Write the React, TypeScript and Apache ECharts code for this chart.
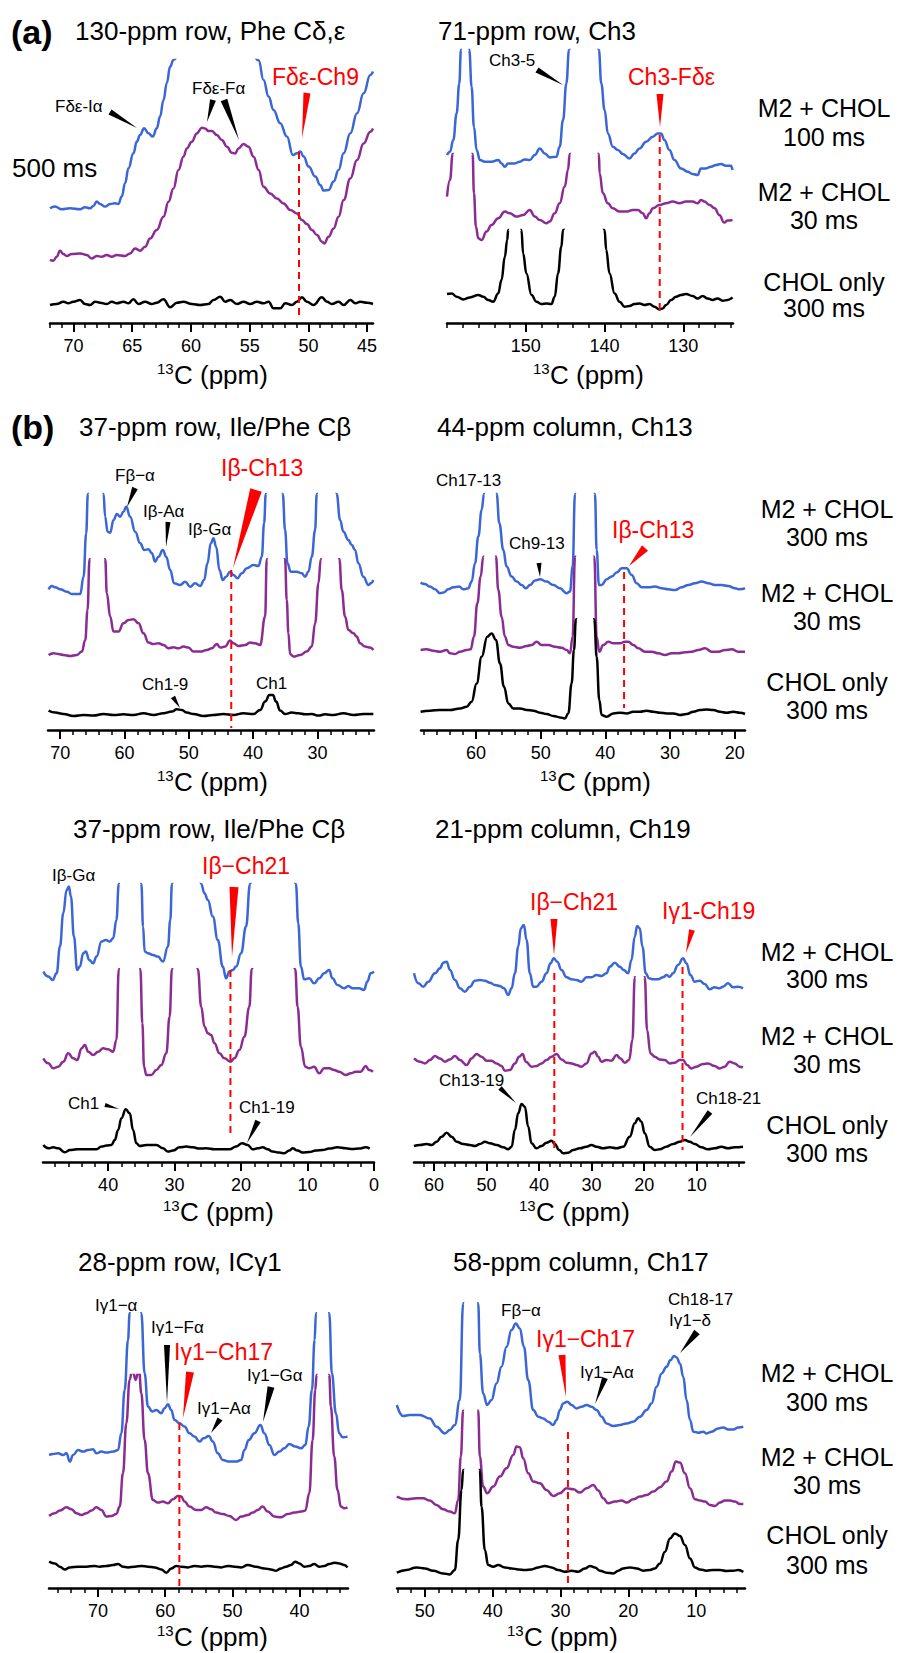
import React, { useEffect, useRef } from "react";
import * as echarts from "echarts";

const FONT = '"Liberation Sans", Arial, Helvetica, sans-serif';
const BLUE = "#3b66d6";
const PURPLE = "#8b2c93";
const BLACK = "#000000";
const RED = "#ff0000";

// ---------- spectra: flat [ppm, intensity, ppm, intensity, ...] ----------
const A1_BLUE = [72.0,0, 71.57,1.7, 71.0,-1, 70.3,0, 69.44,-1, 69.02,1, 68.59,0, 68.31,2.3, 68.02,6.7, 67.74,4.3, 67.31,1.7, 66.89,4.3, 66.46,5, 66.18,4.3, 65.89,11.7, 65.61,25, 65.32,40, 64.9,55, 64.61,66.7, 64.33,73.3, 63.99,80, 63.62,75, 63.25,71.7, 62.91,80, 62.63,91.7, 62.34,108, 62.06,125, 61.77,141.7, 61.49,148.3, 58,400, 54.24,148, 53.82,128.3, 53.39,111.7, 52.97,98.3, 52.4,85, 51.83,71.7, 51.32,53.3, 50.98,55, 50.69,56.7, 50.41,51.7, 49.98,41.7, 49.41,31.7, 48.99,23.3, 48.7,17.7, 48.28,18.3, 47.85,26.7, 47.43,38.3, 47.0,55, 46.43,75, 45.86,95, 45.3,115, 44.73,133.3, 44.5,136.7];
const A1_PURPLE = [72.0,-3.3, 71.72,-4, 71.43,0, 71.15,6, 70.86,2.7, 70.58,0.7, 70.15,2.7, 69.44,3.3, 68.88,1.7, 68.45,-1.7, 68.02,0.7, 67.6,0, 67.17,1.7, 66.74,0, 66.32,1.7, 65.61,0.7, 65.18,3.3, 64.76,8.3, 64.33,6, 63.9,10, 63.48,18.3, 62.91,26.7, 62.34,40, 61.91,55, 61.49,68.3, 61.06,86.7, 60.64,100, 60.35,108.3, 59.93,115, 59.5,123.3, 59.07,129, 58.79,128.3, 58.51,125.7, 58.22,125.7, 57.8,121.7, 57.37,116.7, 56.94,110, 56.52,104, 56.23,103.3, 55.95,108.3, 55.52,112.7, 55.1,110, 54.67,100, 54.24,86.7, 53.82,70, 53.25,63.3, 52.68,58.3, 52.11,53.3, 51.55,46.7, 50.98,43.3, 50.55,36.7, 50.13,32.7, 49.7,26.7, 49.27,21.7, 48.85,15, 48.65,13.3, 48.28,20, 47.85,28.3, 47.43,40, 47.0,56.7, 46.43,78.3, 45.86,96.7, 45.3,113.3, 44.73,125, 44.5,128.3];
const A1_BLACK = [72.0,-1, 71.43,0, 70.86,2.3, 70.44,0.7, 70.01,2.3, 69.44,4, 69.02,0, 68.59,-1, 68.16,2.3, 67.74,1.3, 67.17,0, 66.74,2.3, 66.32,0.7, 65.75,2.3, 65.32,0.7, 64.9,4.7, 64.47,0, 63.9,2.3, 63.34,0, 62.91,1.3, 62.34,4.7, 61.77,-3.3, 61.2,1.3, 60.64,2.3, 59.93,0, 59.22,-1, 58.51,0, 58.08,4, 57.51,7.3, 57.09,2.3, 56.66,4, 56.09,0, 55.52,2.3, 54.95,0, 54.39,2.3, 53.82,0.7, 53.39,2.3, 52.97,-4.3, 52.4,-4.3, 51.97,0.7, 51.4,-1, 50.98,2.3, 50.55,6.7, 50.13,2.3, 49.56,-1, 48.85,6.7, 48.42,2.3, 48.0,0, 47.43,2.3, 47.0,-1, 46.43,4, 46.0,0.7, 45.58,2.3, 45.01,1.3, 44.5,0];

const A2_BLUE = [160,6.7, 159.62,10, 159.2,21.7, 158.78,48.3, 158.44,78.3, 158.23,111.7, 157.72,400, 157.17,111.7, 156.88,75, 156.58,35, 156.24,11.7, 155.82,1.7, 155.19,0, 154.35,0, 153.5,1.7, 153.08,-1.7, 152.66,-5, 152.24,-1.7, 151.39,-1.7, 150.76,0, 150.13,2.3, 149.49,1.7, 148.86,6.7, 148.23,13.3, 147.59,8.3, 146.96,4.3, 146.12,5, 145.7,15, 145.27,41.7, 144.85,78.3, 144.51,111.7, 142.6,400, 140.72,111.7, 140.42,78.3, 140,51.7, 139.58,28.3, 138.95,15, 138.31,11.7, 137.68,7.7, 136.84,3.3, 136.2,8.3, 135.57,13.3, 134.73,20, 133.88,25, 133.25,28.3, 132.83,28.3, 132.41,21.7, 131.77,11.7, 131.14,1.7, 130.3,-6.7, 129.45,-10, 128.82,-12.3, 128.19,-13.3, 127.76,-6.7, 127.13,-6.7, 126.5,-5, 125.86,-3.3, 125.23,-2.3, 124.6,-4, 123.97,-4, 123.76,-8.3];
const A2_PURPLE = [160,16.7, 159.62,33.3, 159.28,59.3, 157.9,400, 156.75,59.3, 156.58,20, 156.33,-13.3, 156.03,-25, 155.61,-26.7, 154.98,-18.3, 154.35,-11.7, 153.5,-5, 152.66,1.7, 152.03,0, 151.18,-3.3, 150.34,-1.7, 149.49,3.3, 148.86,-3.3, 148.23,-6.7, 147.38,-10, 146.96,-8.3, 146.33,0, 145.7,10, 145.06,26.7, 144.64,43.3, 144.43,59.3, 142.6,400, 140.72,59.3, 140.63,40, 140.21,20, 139.58,10, 138.95,5, 138.1,1.7, 137.26,1.7, 136.41,3.3, 135.78,3.3, 135.15,0, 134.73,-5, 134.3,0, 133.88,5, 133.04,8.3, 132.19,10, 131.35,11.7, 130.51,10, 129.66,11.7, 128.82,11.7, 128.19,10, 127.76,13.3, 127.34,11.7, 126.67,8.3, 126.03,5, 125.44,-1.7, 124.81,-9.3, 124.39,-7.3, 123.76,-6.7];
const A2_BLACK = [160,2.7, 159.41,3.3, 158.78,0, 157.93,-2.7, 157.09,-0.7, 156.03,1.7, 155.4,0, 154.77,-3.3, 154.14,-5, 153.5,3.3, 153.08,16.7, 152.66,40, 152.36,56.7, 152.24,66.7, 151.39,400, 150.55,66.7, 150.34,43.3, 149.92,23.3, 149.28,1.7, 148.65,-5, 148.02,-7.3, 147.38,-6.7, 146.75,-7.3, 146.33,0, 145.91,23.3, 145.49,50, 145.27,66.7, 142.7,400, 140,66.7, 139.79,46.7, 139.37,23.3, 138.73,3.3, 138.1,-5, 137.47,-10, 136.84,-9.3, 136.2,-7.3, 135.57,-6.7, 134.94,-8.3, 134.3,-7.3, 133.67,-10, 133.04,-12.7, 132.62,-11.7, 132.19,-8.3, 131.56,-3.3, 130.93,0, 130.3,1.7, 129.66,2.7, 128.82,0.7, 128.19,-1.7, 127.55,0.7, 126.92,-1.7, 126.29,-3.3, 125.65,-1.7, 125.02,-4, 124.39,-3.3, 123.76,-0.7];

const B1_BLUE = [71.81,0.7, 71.3,4, 70.78,2.7, 70,0.7, 68.96,-1.7, 68.19,-4, 66.89,-4, 66.37,13.3, 65.96,56.7, 65.7,96, 64.46,400, 63.26,96, 63.01,73.3, 62.64,58.3, 62.23,57.3, 61.71,70, 61.19,76, 60.67,73.3, 60.16,78.3, 59.74,83.3, 59.12,73.3, 58.34,58.3, 57.56,46.7, 56.94,40, 56.27,40.7, 55.75,36.7, 55.23,28.3, 54.72,33.3, 54.04,40, 53.52,33.3, 52.9,20, 52.28,6.7, 51.35,5, 50.57,8.3, 49.79,3.3, 49.02,6.7, 48.24,4, 47.62,10, 47.1,26.7, 46.58,46.7, 46.17,51.7, 45.75,43.3, 45.23,20, 44.72,10, 44.2,13.3, 43.58,18.3, 43.06,15, 42.44,11.7, 41.76,16.7, 40.98,21.7, 39.95,25, 39.17,24, 38.65,33.3, 38.29,66.7, 38.03,96, 36.74,400, 35.39,96, 35.03,60, 34.66,26.7, 34.15,18.3, 33.21,18.3, 32.44,16.7, 31.92,13.3, 31.4,18.3, 30.88,33.3, 30.36,60, 30.1,96, 28.55,400, 27,96, 26.48,70, 25.96,58.3, 25.18,50, 24.66,45, 24.15,40, 23.63,26.7, 22.85,13.3, 22.07,5, 21.71,6.7, 21.3,10];
const B1_PURPLE = [71.81,-1.7, 71.04,0, 70.26,-0.7, 69.48,-1.7, 68.45,-2.7, 67.41,-1.7, 66.63,1.7, 66.11,13.3, 65.75,43.3, 65.44,94, 64.2,400, 63,94, 62.75,60, 62.23,36.7, 61.71,21.7, 60.93,21.7, 60.16,30, 59.38,33.3, 58.6,34, 57.82,30, 57.05,20, 56.27,10.7, 55.49,9.3, 54.72,10, 53.94,8.3, 53.16,5, 52.38,6, 51.61,5, 50.83,6.7, 50.05,5.7, 49.27,1.7, 48.24,1.7, 47.2,3.3, 46.42,5, 45.65,9.3, 45.13,5.7, 44.35,6.7, 43.58,12.7, 43.06,10, 42.28,7.3, 41.24,8.3, 40.47,10.7, 39.69,10, 38.91,8.3, 38.13,36.7, 37.88,94, 36.42,400, 35.03,94, 34.77,53.3, 34.51,20, 34.25,-0.7, 33.73,-3.3, 32.69,-1.7, 31.66,1.7, 30.88,6.7, 30.36,30, 29.84,70, 29.48,94, 28.03,400, 26.58,94, 26.22,63.3, 25.7,36.7, 25.18,23.3, 24.4,20, 23.89,16.7, 23.37,10, 22.59,6.7, 21.81,5.7, 21.3,3.3];
const B1_BLACK = [71.81,2.7, 70.78,0.7, 69.48,-0.7, 67.93,-2.7, 66.37,-1.7, 64.82,-2.3, 63.26,-0.7, 61.71,-1.7, 60.16,-1, 58.6,-1.7, 57.05,0, 55.49,-1.7, 53.94,0, 52.64,1.7, 51.87,4, 51.09,3.3, 50.31,0.7, 49.27,-0.7, 47.72,-2.7, 46.17,-1.7, 44.61,-0.7, 43.06,-1.7, 41.5,0, 39.95,-0.7, 38.91,3.3, 38.13,11.7, 37.46,18.3, 36.94,18.3, 36.42,11.7, 35.8,2.7, 35.03,-0.7, 33.99,0.7, 32.95,0, 31.92,-1, 30.88,-0.7, 29.84,-2.3, 28.81,-1, 27.51,-1.7, 25.96,0, 24.4,-1.7, 22.85,-0.7, 21.3,-0.7];

const B2_BLUE = [68.56,0.7, 67.89,-0.7, 67.11,-3.3, 66.34,-6, 65.57,-10, 65.05,-9.3, 64.28,-6, 63.51,-4, 62.58,-3.3, 61.96,-6, 61.19,-5, 60.67,1.7, 60.15,20, 59.64,46.7, 59.12,73.3, 58.76,89.3, 57.58,400, 56.8,89.3, 56.39,60, 55.77,33.3, 55.26,16.7, 54.48,6.7, 53.71,1.7, 52.94,-1.7, 52.27,-5, 51.65,-1.7, 50.88,2.7, 50.1,4, 49.07,1.7, 48.04,-1.7, 47.01,-5, 45.98,-10, 45.46,-8.3, 45.05,16.7, 44.69,89.3, 43.14,400, 41.6,89.3, 41.34,33.3, 40.98,-1.7, 40.57,-1.7, 39.79,4, 39.02,6.7, 38.25,10.7, 37.47,15, 36.7,15, 35.93,8.3, 35.15,0, 34.38,-4, 33.35,-4, 32.32,-3.3, 31.29,-5, 30.26,-6, 29.23,-6.7, 28.2,-4, 27.16,-1.7, 26.13,0, 25.1,1.7, 24.07,0, 23.04,-1.7, 22.01,-1.7, 20.98,-2.7, 19.95,-5, 19.18,-6, 18.4,-5];
const B2_PURPLE = [68.56,0, 67.63,0.7, 66.6,-0.7, 65.57,-1.7, 64.54,0, 64.02,-3.3, 63.25,-4, 62.47,-1.7, 61.44,0, 60.82,0.7, 60.31,13.3, 59.79,46.7, 59.28,73.3, 58.87,93.3, 57.73,400, 56.91,93.3, 56.55,60, 56.03,33.3, 55.52,13.3, 55,5, 54.23,3.3, 53.2,2.3, 52.16,4, 51.39,5, 50.62,8.3, 49.85,5, 48.81,5, 47.78,3.3, 46.75,2.3, 45.98,0, 45.46,-3.3, 45.05,13.3, 44.69,93.3, 43.14,400, 41.7,93.3, 41.34,13.3, 40.93,-1.7, 40.31,5, 39.54,8.3, 38.76,6.7, 37.73,6.7, 36.96,8.3, 36.44,8.3, 35.67,5, 34.9,1.7, 33.87,-1.7, 32.84,-1.7, 31.8,-3.3, 30.77,-5, 29.74,-3.3, 28.71,-3.3, 27.68,-2.3, 26.65,-1.7, 25.62,0, 24.59,1.7, 23.56,-1.7, 22.53,-1.7, 21.49,0, 20.46,0.7, 19.43,-1.7, 18.4,-1.7];
const B2_BLACK = [68.56,0, 67.11,1, 65.57,1.7, 64.02,1.7, 62.47,3.3, 61.44,5, 60.67,10, 59.9,28.3, 59.12,55, 58.25,75, 57.58,78.3, 56.91,71.7, 56.29,48.3, 55.67,25, 55,8.3, 54.23,3.3, 53.2,3.3, 52.16,1.7, 51.13,1, 50.1,-1, 49.07,-2.3, 48.04,-4.3, 47.01,-5.7, 46.24,-6.7, 45.72,-1.7, 45.21,28.3, 44.85,61.7, 44.54,92.3, 43.14,400, 41.7,92.3, 41.34,55, 40.93,11.7, 40.57,-3.3, 39.79,-5, 38.76,-1.7, 37.73,-1, 36.7,-1.7, 35.67,0, 34.64,0, 33.61,1, 32.58,0, 31.55,-1, 30.52,-1.7, 29.48,-1.7, 28.45,-3.3, 27.42,-2.3, 26.39,0, 25.36,1.7, 24.33,2.3, 23.3,1.7, 22.27,0, 21.24,-1, 20.21,0, 19.18,-1, 18.4,-2.3];

const B3_BLUE = [49.75,1.7, 49,-3.3, 48.35,-6.7, 47.75,0, 47.25,26.7, 46.75,60, 46.25,83.3, 45.9,86.7, 45.6,76.7, 45.15,36.7, 44.65,3.3, 44.25,6.7, 43.75,20, 43.35,21.7, 42.85,13.3, 42.25,10, 41.75,16.7, 41,31.7, 40.35,33.3, 39.75,31.7, 39.25,35, 38.75,53.3, 38.4,89.3, 36.75,400, 35,89.3, 34.75,46.7, 34.5,21.7, 34,20, 33.25,18.3, 32.5,16.7, 31.75,11.7, 31,26.7, 30.65,53.3, 30.4,89.3, 28.25,400, 26,89.3, 25.5,80, 25,73.3, 24.25,56.7, 23.5,33.3, 22.75,6.7, 22.25,-5, 21.75,1.7, 21.25,3.3, 20.75,6.7, 20,20, 19.25,46.7, 18.65,89.3, 15.25,400, 11.75,89.3, 11.4,50, 11,6.7, 10.5,-6, 9.75,-5, 9,-10, 8.25,-5, 7.5,0, 6.75,3.3, 6.25,-5, 5.5,-11.7, 4.5,-15, 3.85,-12.7, 3.25,-15, 2.25,-15, 1.5,-16.7, 1,-8.3, 0.5,0, 0,1.7];
const B3_PURPLE = [49.75,1.7, 49,-3.3, 48.25,-8.3, 47.5,-6.7, 46.75,-1.7, 46,6.7, 45.25,1.7, 44.65,0, 44,11.7, 43.5,15, 43,8.3, 42.25,5, 41.5,8.3, 40.75,11.7, 40,10.7, 39.25,8.3, 38.75,20, 38.4,90.7, 36.75,400, 35.15,90.7, 34.85,36.7, 34.6,-6.7, 34.25,-15, 33.5,-15, 32.75,-10, 32,-5, 31.25,6.7, 30.75,43.3, 30.4,90.7, 28.5,400, 26.5,90.7, 26,53.3, 25.5,33.3, 25,26.7, 24.5,25, 24,16.7, 23.25,6.7, 22.5,1.7, 21.6,-1.7, 21,1.7, 20.25,10, 19.5,23.3, 18.75,53.3, 18.4,90.7, 15.25,400, 11.85,90.7, 11.5,53.3, 11,13.3, 10.35,-6.7, 9.75,-8.3, 9,-6.7, 8.25,-13.3, 7.5,-8.3, 6.75,-8.3, 6,-10, 5.25,-11.7, 4.25,-15, 3.5,-13.3, 2.75,-11.7, 2,-11.7, 1.25,-6, 0.75,-10, 0.15,-11.7];
const B3_BLACK = [49.75,2.3, 49,-1, 48.25,0, 47.5,-1, 46.5,-5, 45.75,-2.7, 44.75,-2, 43.25,-2, 41.75,-2, 41,0.7, 40.25,1.7, 39.5,2.3, 39,7.3, 38.5,17.3, 38,29, 37.35,38, 36.75,34, 36.25,17.3, 35.75,4, 35.25,1.3, 34.25,2.3, 32.75,2.3, 31.75,-1, 31,-4.3, 30.25,-3.3, 29.25,0, 28.25,0.7, 27.25,0, 26.25,-1.3, 25.25,-1, 24,-2, 22.75,-2, 21.75,-2, 20.75,0.7, 19.85,4, 19,2.3, 18.25,-2, 17.5,-1, 16.75,0, 16,-2, 15.25,-4.3, 14.25,-5.3, 13.5,-6, 12.75,-3.3, 12.25,-1, 11.5,-3.3, 10.75,-5.3, 9.75,-4.7, 8.75,-3.3, 7.75,-2.7, 6.75,-1.3, 5.5,0, 4.25,-1, 3.25,-1.7, 2.25,-1.3, 1.25,0, 0.65,-1.3];

const B4_BLUE = [63.8,11.7, 62.98,1.7, 62.03,-1.7, 61.08,3.3, 59.81,11.7, 58.86,16.7, 58.23,22.3, 57.59,23.3, 56.96,15, 56.01,5, 55.06,-3.3, 54.11,-6.7, 53.16,-1.7, 52.21,4.3, 51.25,5, 50.3,4.3, 49.35,2.3, 48.4,0, 47.45,-1, 46.69,-3.3, 45.87,-10, 45.23,-3.3, 44.6,11.7, 43.97,38.3, 43.46,56.7, 42.89,60, 42.38,45, 41.75,11.7, 41.12,-1.7, 40.48,-1.7, 39.53,3.3, 38.58,11.7, 37.82,21.7, 37.19,26.7, 36.55,23.3, 35.73,15, 34.78,7.7, 33.83,5.7, 32.88,5, 31.93,3.3, 30.98,7.7, 30.03,7.7, 29.08,10, 28.12,9, 27.17,11.7, 26.54,18.3, 25.59,22.3, 24.64,18.3, 23.88,15, 23.05,11.7, 22.42,25, 21.79,48.3, 21.34,59, 20.84,56.7, 20.33,38.3, 19.7,11.7, 19.06,6.7, 18.3,5.7, 17.35,5.7, 16.4,7.7, 15.77,10, 15.13,8.3, 14.5,11.7, 13.55,20, 12.6,26.7, 11.96,21.7, 11.2,10, 10.38,3.3, 9.43,4.3, 8.48,1, 7.53,-4.3, 6.58,-2.3, 5.63,-3.3, 5,-1.7, 4.04,1.7, 3.09,-2.3, 2.14,-1.7, 1.19,-3.3];
const B4_PURPLE = [63.8,3.3, 62.66,0, 61.71,-1.7, 60.76,1.7, 59.81,5.7, 58.86,3.3, 57.91,0, 56.96,2.3, 56.01,5.7, 55.06,1.7, 53.79,-3.3, 52.84,3.3, 51.89,7.7, 50.94,5, 49.99,1, 49.04,1, 48.09,-1.7, 47.14,-4.3, 46.5,-9, 45.55,-8.3, 44.6,-1.7, 43.78,5, 43.14,7.7, 42.51,0, 41.43,-5, 40.48,-4.3, 39.53,-1.7, 38.58,1.7, 37.63,5, 36.68,7.7, 35.73,2.3, 34.78,-1, 33.83,-1.7, 32.88,-3.3, 31.93,-5, 30.98,-1.7, 30.03,8.3, 29.39,10, 28.76,5, 28.12,0, 27.17,1.7, 26.22,1, 25.27,6.7, 24.51,3.3, 23.69,-1, 22.86,1.7, 22.23,21.7, 21.79,84.3, 20.84,400, 19.89,84.3, 19.44,31.7, 18.81,8.3, 17.98,5, 17.03,2.3, 16.08,1.7, 15.13,-1.7, 14.18,-1, 13.23,1.7, 12.6,1.7, 11.84,-3.3, 11.01,-6.7, 10.06,-5, 8.8,-2.3, 7.85,-1.7, 6.58,-4.3, 5.63,-6.7, 4.68,-5, 3.73,0, 2.78,-1.7, 1.83,-5, 1.19,-5.7];
const B4_BLACK = [63.8,0, 62.66,1, 61.39,2, 60.44,1, 59.49,4.3, 58.54,9.3, 57.59,13.3, 56.64,9.3, 55.69,4.3, 54.42,2, 53.16,1, 52.21,0, 51.25,2, 50.3,4.3, 49.35,2.7, 48.09,1, 46.82,-1.3, 45.87,-3.3, 45.23,-0.7, 44.6,16, 43.97,32.7, 43.33,42, 42.7,39.3, 42.07,19.3, 41.43,2.7, 40.48,-2.3, 39.53,0, 38.58,3.3, 37.63,5.3, 37,2, 36.17,-4, 35.41,-7.3, 34.46,-6.7, 33.51,-4, 32.24,-2.3, 30.98,-0.7, 30.03,1, 29.08,-0.7, 27.81,-2.3, 26.54,-1.3, 25.27,-2.3, 24,-0.7, 22.74,9.3, 21.79,22.7, 21.15,27.7, 20.52,24.3, 19.89,12.7, 18.94,-0.7, 17.98,-4, 17.03,-3.3, 15.77,-0.7, 14.5,2, 13.23,4.3, 12.28,6, 11.33,4.3, 10.38,2, 9.11,-1.3, 7.85,-3.3, 6.58,-2.3, 5.31,-0.7, 4.04,-2.3, 2.78,-1.3, 1.19,-0.7];

const B5_BLUE = [77.28,-1.7, 76.68,-0.7, 75.94,0, 75.2,-1.7, 74.7,0, 74.21,-8.3, 73.71,-1.7, 72.97,3.3, 72.23,1.7, 71.49,3.3, 70.74,4, 70.25,0, 69.5,1.7, 68.76,0.7, 67.77,1.7, 67.03,3.3, 66.53,20, 66.04,63.3, 65.54,113.3, 65.3,140, 64.31,400, 63.56,140, 63.07,80, 62.57,46.7, 61.93,41.7, 61.34,43.3, 60.59,40, 60.1,45, 59.6,49, 59.11,43.3, 58.61,33.3, 57.87,30, 57.13,26.7, 56.39,20, 55.64,16.7, 54.9,11.7, 54.31,15, 53.51,17.3, 52.92,11.7, 52.18,0, 51.44,-6.7, 50.45,-8.3, 49.46,-8.3, 48.71,-6.7, 48.22,3.3, 47.57,13.3, 46.73,20, 45.84,28.3, 45.25,20, 44.5,8.3, 43.76,-1.7, 43.02,1.7, 42.28,5, 41.53,9.3, 40.64,6.7, 39.8,5, 39.16,8.3, 38.66,26.7, 38.17,63.3, 37.77,113.3, 37.57,140, 36.58,400, 35.59,140, 35.2,80, 34.6,40, 34.11,20, 33.61,16, 32.87,16.7];
const B5_PURPLE = [77.28,-2.7, 76.44,0, 75.69,2.7, 74.7,6, 73.96,4, 73.22,0, 72.48,-1.7, 71.73,0, 70.99,2.7, 70.25,6, 69.5,3.3, 68.76,-3.3, 68.02,-2.7, 67.28,-0.7, 66.78,6.7, 66.29,40, 65.79,90, 65.3,133.3, 64.9,145, 64.41,133.3, 63.91,145, 63.56,120, 63.07,73.3, 62.57,40, 61.83,13.3, 61.09,10.7, 60.35,11.7, 59.6,10, 58.86,14, 58.12,17.3, 57.62,16.7, 57.13,11.7, 56.39,6.7, 55.4,3.3, 54.65,3.3, 53.91,6, 53.17,4, 52.43,0.7, 51.44,-0.7, 50.45,-2.7, 49.46,-6.7, 48.71,-3.3, 47.72,-1.7, 46.98,0.7, 46.24,3.3, 45.5,6.7, 44.75,1.7, 43.76,-3.3, 42.77,-4, 41.78,-0.7, 40.79,0.7, 39.8,1.7, 39.16,2.7, 38.56,20, 38.07,73.3, 37.67,123.3, 37.48,138.3, 36.58,400, 35.59,138.3, 35.35,106.7, 34.85,56.7, 34.36,23.3, 33.86,6.7, 33.37,5, 32.87,6];
const B5_BLACK = [77.28,5, 76.44,3.3, 75.69,0, 74.95,-2.7, 74.21,-0.7, 72.97,0, 71.73,0, 70.5,0.7, 69.75,0, 68.76,0.7, 67.77,1.7, 67.03,2.7, 66.29,0, 65.54,-0.7, 64.55,0, 63.56,0.7, 62.57,0, 61.58,-0.7, 60.59,-2.7, 59.85,-6, 59.11,-1.7, 58.37,0.7, 57.62,0, 56.63,-0.7, 55.64,0.7, 54.65,0, 53.66,0.7, 52.67,0, 51.68,-0.7, 50.69,0.7, 49.7,0, 48.71,-0.7, 47.72,1.7, 46.49,0, 45.25,-1.7, 44.26,-2.7, 43.51,-4, 42.77,-1.7, 42.03,0, 41.29,1.7, 40.64,5, 40.05,3.3, 39.31,0, 38.56,0.7, 37.82,2.7, 37.08,0, 36.34,0.7, 35.59,2.7, 34.85,4, 34.11,3.3, 33.37,1.7, 32.87,-0.7];

const B6_BLUE = [54.13,11.7, 53.2,0.7, 52.21,1.7, 50.74,1.7, 49.26,-1.7, 48.28,-10, 47.05,-16.7, 46.31,-13.3, 45.58,-8.3, 44.84,16.7, 44.35,113.3, 43.22,400, 42.13,113.3, 41.89,63.3, 41.4,23.3, 40.81,11.7, 40.17,16.7, 39.43,33.3, 38.69,50, 37.95,70, 37.22,86.7, 36.58,93.3, 35.99,88.3, 35.4,70, 34.76,36.7, 34.02,6.7, 33.28,0, 32.55,-1.7, 31.81,-5, 31.07,-8.3, 30.58,-3.3, 30.09,6.7, 29.6,13.3, 29.01,15, 28.37,11.7, 27.63,8.3, 26.89,10, 26.16,11.7, 25.42,10, 24.68,6.7, 23.94,0, 23.21,-6.7, 22.22,-9.3, 21.24,-8.3, 20.26,-6.7, 19.27,-5, 18.29,0, 17.31,6.7, 16.57,13.3, 15.83,30, 15.09,43.3, 14.36,50, 13.77,56.7, 13.27,60.7, 12.88,59.3, 12.39,53.3, 11.9,40, 11.41,16.7, 10.91,-3.3, 10.42,-15, 9.69,-16, 8.95,-15, 8.46,-16.7, 7.72,-15, 6.74,-11.7, 6,-10.7, 5.26,-12.7, 4.52,-12.7, 3.79,-10.7, 3.05,-10];
const B6_PURPLE = [54.13,1.7, 52.7,-1, 51.23,0, 50.25,0, 49.26,-2.3, 48.28,-6.7, 47.3,-11, 46.31,-13.3, 45.58,-15, 45.08,-1.7, 44.69,41.7, 44.35,87.7, 43.26,400, 42.13,87.7, 41.89,41.7, 41.4,11.7, 40.81,5, 39.92,11.7, 38.94,21.7, 37.95,30, 36.97,43.3, 36.48,51.7, 35.99,51, 35.5,40, 34.76,25, 34.02,16.7, 33.04,15, 32.06,8.3, 31.07,2.3, 30.09,5, 29.11,10, 28.12,9, 27.14,5.7, 26.16,10, 25.17,13.3, 24.43,7.7, 23.7,0, 22.96,-5, 21.98,-3.3, 20.99,-2.3, 20.26,-4.3, 19.27,-1, 18.29,1.7, 17.31,3.3, 16.32,6.7, 15.34,11, 14.36,16.7, 13.62,26.7, 12.98,36.7, 12.39,35.7, 11.65,25, 10.91,10, 10.17,-1, 9.44,-2.3, 8.7,-3.3, 7.96,-6.7, 7.23,-7.7, 6.49,-4.3, 5.75,-2.3, 5.02,-2.3, 4.28,-3.3, 3.54,-5.7, 3.05,-5.7];
const B6_BLACK = [54.13,-1, 52.7,1.7, 51.23,4.3, 50,3.3, 48.77,1, 47.3,-1.7, 46.31,-2.7, 45.58,1.7, 45.08,31.7, 44.59,81.7, 44.35,101.7, 43.12,400, 41.89,101.7, 41.64,65, 41.15,21.7, 40.66,6.7, 39.92,5, 39.18,6.7, 38.2,4.3, 37.22,3.3, 36.23,2.3, 35.25,1.7, 34.27,2.3, 33.28,4.3, 32.3,5.7, 31.32,4.3, 30.33,1.7, 29.35,0, 28.37,1, 27.38,0, 26.4,3.3, 25.66,5.7, 24.92,4.3, 24.19,1, 23.21,-1, 22.22,-1.7, 21.48,1, 20.75,3.3, 19.76,4.3, 18.78,3.3, 17.8,1, 16.81,1.7, 16.08,3.3, 15.34,8.3, 14.6,20, 13.86,33.3, 13.13,38.3, 12.39,35.7, 11.65,26.7, 10.91,13.3, 10.17,4.3, 9.44,2.3, 8.46,1, 7.48,1.7, 6.49,1.7, 5.51,0.7, 4.52,1, 3.79,1.7, 3.05,-0.3];

// marker positions (ppm) of the red dashed lines
const A1_MARKS = [50.8];
const A2_MARKS = [133.0];
const B1_MARKS = [43.4];
const B2_MARKS = [37.1];
const B3_MARKS = [21.6];
const B4_MARKS = [37.1, 12.7];
const B5_MARKS = [57.9];
const B6_MARKS = [28.9];

// tick labels
const A1_TICKS = [45, 50, 55, 60, 65, 70];
const A2_TICKS = [130, 140, 150];
const B1_TICKS = [30, 40, 50, 60, 70];
const B2_TICKS = [20, 30, 40, 50, 60];
const B3_TICKS = [0, 10, 20, 30, 40];
const B4_TICKS = [10, 20, 30, 40, 50, 60];
const B5_TICKS = [40, 50, 60, 70];
const B6_TICKS = [10, 20, 30, 40, 50];

const steps = (a: number, b: number, s: number) => {
  const out: number[] = [];
  for (let v = a; v <= b + 1e-9; v += s) out.push(v);
  return out;
};
const pairs = (flat: number[]) => {
  const out: number[][] = [];
  for (let i = 0; i < flat.length; i += 2) out.push([flat[i], flat[i + 1]]);
  return out;
};

// ---------- layout ----------
type Tr = { data: number[]; color: string; base: number; clip: number };
type Pn = {
  x0: number; x1: number; from: number; to: number; axisY: number;
  major: number[]; minor: number[]; traces: Tr[];
  marks: number[]; markSpan: number[][]; nameX: number; nameY: number;
};

const PANELS: Pn[] = [
  { x0: 50, x1: 373, from: 72, to: 44.5, axisY: 323, major: A1_TICKS, minor: steps(45, 72, 1),
    traces: [ { data: A1_BLUE, color: BLUE, base: 208.3, clip: 60 }, { data: A1_PURPLE, color: PURPLE, base: 256.7, clip: 40 }, { data: A1_BLACK, color: BLACK, base: 304, clip: 40 } ],
    marks: A1_MARKS, markSpan: [[152, 316]], nameX: 157, nameY: 375 },
  { x0: 447, x1: 733, from: 160, to: 123.7, axisY: 323, major: A2_TICKS, minor: steps(124, 160, 2),
    traces: [ { data: A2_BLUE, color: BLUE, base: 161.7, clip: 50 }, { data: A2_PURPLE, color: PURPLE, base: 213.3, clip: 154 }, { data: A2_BLACK, color: BLACK, base: 296.7, clip: 230 } ],
    marks: A2_MARKS, markSpan: [[135, 311]], nameX: 533, nameY: 375 },
  { x0: 48, x1: 374, from: 71.9, to: 21.2, axisY: 730, major: B1_TICKS, minor: steps(22, 70, 2),
    traces: [ { data: B1_BLUE, color: BLUE, base: 590, clip: 494 }, { data: B1_PURPLE, color: PURPLE, base: 653.3, clip: 559.3 }, { data: B1_BLACK, color: BLACK, base: 713.3, clip: 600 } ],
    marks: B1_MARKS, markSpan: [[570, 728]], nameX: 157, nameY: 782 },
  { x0: 421, x1: 745, from: 68.5, to: 18.4, axisY: 730, major: B2_TICKS, minor: steps(20, 68, 2),
    traces: [ { data: B2_BLUE, color: BLUE, base: 583.3, clip: 494 }, { data: B2_PURPLE, color: PURPLE, base: 650, clip: 556.7 }, { data: B2_BLACK, color: BLACK, base: 711.7, clip: 619.3 } ],
    marks: B2_MARKS, markSpan: [[572, 708]], nameX: 540, nameY: 782 },
  { x0: 43, x1: 374, from: 49.8, to: 0, axisY: 1162, major: B3_TICKS, minor: steps(0, 48, 2),
    traces: [ { data: B3_BLUE, color: BLUE, base: 973.3, clip: 884 }, { data: B3_PURPLE, color: PURPLE, base: 1060, clip: 969.3 }, { data: B3_BLACK, color: BLACK, base: 1147.3, clip: 1050 } ],
    marks: B3_MARKS, markSpan: [[970, 1137]], nameX: 163, nameY: 1212 },
  { x0: 414, x1: 744, from: 63.8, to: 1.0, axisY: 1162, major: B4_TICKS, minor: steps(2, 62, 2),
    traces: [ { data: B4_BLUE, color: BLUE, base: 985, clip: 880 }, { data: B4_PURPLE, color: PURPLE, base: 1061.7, clip: 977.3 }, { data: B4_BLACK, color: BLACK, base: 1146, clip: 1080 } ],
    marks: B4_MARKS, markSpan: [[973, 1150], [967, 1150]], nameX: 519, nameY: 1212 },
  { x0: 49, x1: 348, from: 77.3, to: 32.8, axisY: 1588, major: B5_TICKS, minor: steps(34, 76, 2),
    traces: [ { data: B5_BLUE, color: BLUE, base: 1453.3, clip: 1313.3 }, { data: B5_PURPLE, color: PURPLE, base: 1513.3, clip: 1375 }, { data: B5_BLACK, color: BLACK, base: 1566.7, clip: 1480 } ],
    marks: B5_MARKS, markSpan: [[1423, 1587]], nameX: 157, nameY: 1637 },
  { x0: 397, x1: 745, from: 54.1, to: 2.8, axisY: 1588, major: B6_TICKS, minor: steps(4, 54, 2),
    traces: [ { data: B6_BLUE, color: BLUE, base: 1416.7, clip: 1303.3 }, { data: B6_PURPLE, color: PURPLE, base: 1498.3, clip: 1410.7 }, { data: B6_BLACK, color: BLACK, base: 1571.7, clip: 1470 } ],
    marks: B6_MARKS, markSpan: [[1432, 1587]], nameX: 507, nameY: 1637 },
];

// [text, x, y, size, color, bold, align]
const LG = 25;
const TEXTS: any[] = [
  ["(a)", 11, 32, 34, BLACK, true, "left"],
  ["(b)", 11, 427, 34, BLACK, true, "left"],
  ["130-ppm row, Phe Cδ,ε", 75, 31, 26, BLACK, false, "left"],
  ["71-ppm row, Ch3", 438, 31, 26, BLACK, false, "left"],
  ["37-ppm row, Ile/Phe Cβ", 79, 427, 26, BLACK, false, "left"],
  ["44-ppm column, Ch13", 437, 427, 26, BLACK, false, "left"],
  ["37-ppm row, Ile/Phe Cβ", 73, 829, 26, BLACK, false, "left"],
  ["21-ppm column, Ch19", 435, 829, 26, BLACK, false, "left"],
  ["28-ppm row, ICγ1", 78, 1262, 26, BLACK, false, "left"],
  ["58-ppm column, Ch17", 453, 1262, 26, BLACK, false, "left"],
  ["500 ms", 12, 168, 26, BLACK, false, "left"],
  // right-hand legends
  ["M2 + CHOL", 824, 108, LG, BLACK, false, "center"], ["100 ms", 824, 137, LG, BLACK, false, "center"],
  ["M2 + CHOL", 824, 192, LG, BLACK, false, "center"], ["30 ms", 824, 220, LG, BLACK, false, "center"],
  ["CHOL only", 824, 282, LG, BLACK, false, "center"], ["300 ms", 824, 308, LG, BLACK, false, "center"],
  ["M2 + CHOL", 827, 509, LG, BLACK, false, "center"], ["300 ms", 827, 537, LG, BLACK, false, "center"],
  ["M2 + CHOL", 827, 593, LG, BLACK, false, "center"], ["30 ms", 827, 621, LG, BLACK, false, "center"],
  ["CHOL only", 827, 682, LG, BLACK, false, "center"], ["300 ms", 827, 710, LG, BLACK, false, "center"],
  ["M2 + CHOL", 827, 952, LG, BLACK, false, "center"], ["300 ms", 827, 979, LG, BLACK, false, "center"],
  ["M2 + CHOL", 827, 1036, LG, BLACK, false, "center"], ["30 ms", 827, 1064, LG, BLACK, false, "center"],
  ["CHOL only", 827, 1125, LG, BLACK, false, "center"], ["300 ms", 827, 1153, LG, BLACK, false, "center"],
  ["M2 + CHOL", 827, 1373, LG, BLACK, false, "center"], ["300 ms", 827, 1402, LG, BLACK, false, "center"],
  ["M2 + CHOL", 827, 1457, LG, BLACK, false, "center"], ["30 ms", 827, 1485, LG, BLACK, false, "center"],
  ["CHOL only", 827, 1535, LG, BLACK, false, "center"], ["300 ms", 827, 1565, LG, BLACK, false, "center"],
  // peak annotations
  ["Fδε-Iα", 55, 106, 17, BLACK, false, "left"],
  ["Fδε-Fα", 192, 88, 17, BLACK, false, "left"],
  ["Fδε-Ch9", 272, 77, 23, RED, false, "left"],
  ["Ch3-5", 489, 60, 17, BLACK, false, "left"],
  ["Ch3-Fδε", 628, 77, 23, RED, false, "left"],
  ["Fβ−α", 115, 475, 17, BLACK, false, "left"],
  ["Iβ-Aα", 143, 511, 17, BLACK, false, "left"],
  ["Iβ-Gα", 188, 529, 17, BLACK, false, "left"],
  ["Iβ-Ch13", 221, 468, 23, RED, false, "left"],
  ["Ch1-9", 142, 684, 17, BLACK, false, "left"],
  ["Ch1", 256, 683, 17, BLACK, false, "left"],
  ["Ch17-13", 436, 480, 17, BLACK, false, "left"],
  ["Ch9-13", 509, 543, 17, BLACK, false, "left"],
  ["Iβ-Ch13", 612, 530, 23, RED, false, "left"],
  ["Iβ-Gα", 52, 875, 17, BLACK, false, "left"],
  ["Iβ−Ch21", 202, 866, 23, RED, false, "left"],
  ["Ch1", 68, 1103, 17, BLACK, false, "left"],
  ["Ch1-19", 239, 1107, 17, BLACK, false, "left"],
  ["Iβ−Ch21", 530, 902, 23, RED, false, "left"],
  ["Iγ1-Ch19", 662, 911, 23, RED, false, "left"],
  ["Ch13-19", 439, 1080, 17, BLACK, false, "left"],
  ["Ch18-21", 696, 1098, 17, BLACK, false, "left"],
  ["Iγ1−α", 95, 1305, 17, BLACK, false, "left"],
  ["Iγ1−Fα", 151, 1327, 17, BLACK, false, "left"],
  ["Iγ1−Ch17", 174, 1352, 23, RED, false, "left"],
  ["Iγ1−Aα", 197, 1408, 17, BLACK, false, "left"],
  ["Iγ1−Gα", 247, 1375, 17, BLACK, false, "left"],
  ["Fβ−α", 501, 1310, 17, BLACK, false, "left"],
  ["Iγ1−Ch17", 536, 1339, 23, RED, false, "left"],
  ["Iγ1−Aα", 580, 1372, 17, BLACK, false, "left"],
  ["Ch18-17", 668, 1299, 17, BLACK, false, "left"],
  ["Iγ1−δ", 669, 1320, 17, BLACK, false, "left"],
];

// pointer wedges: [baseX, baseY, tipX, tipY, halfWidth, color]
const WEDGES: any[] = [
  [110, 112, 137, 128, 3, BLACK], [213, 100, 207, 122, 3, BLACK], [224, 100, 239, 140, 3.5, BLACK], [307, 93, 302, 138, 3.5, RED],
  [537, 70, 563, 85, 3, BLACK], [660, 94, 660, 127, 3.5, RED],
  [135, 488, 127, 507, 3, BLACK], [168, 522, 166, 547, 2.5, BLACK], [256, 490, 233, 568, 6, RED], [173, 697, 180, 708, 2.5, BLACK],
  [539, 563, 540, 577, 2.5, BLACK], [645, 548, 629, 566, 4, RED],
  [234, 887, 232, 957, 4.5, RED], [105, 1105, 119, 1109, 2, BLACK], [258, 1121, 247, 1143, 3, BLACK],
  [554, 919, 554, 955, 3.5, RED], [692, 930, 686, 953, 3, RED], [500, 1088, 516, 1103, 2.5, BLACK], [710, 1112, 690, 1137, 3, BLACK],
  [167, 1345, 167, 1403, 3, BLACK], [190, 1372, 183, 1418, 4, RED], [220, 1419, 211, 1433, 3, BLACK], [271, 1387, 263, 1422, 3.5, BLACK],
  [562, 1355, 566, 1397, 3.5, RED], [605, 1378, 595, 1404, 3, BLACK], [697, 1332, 680, 1353, 3.5, BLACK],
];

function buildOption() {
  const grid: any[] = [];
  const xAxis: any[] = [];
  const yAxis: any[] = [];
  const series: any[] = [];
  const graphic: any[] = [];

  PANELS.forEach((p) => {
    const left = p.x0;
    const width = p.x1 - p.x0;
    const baseX = { type: "value", min: p.to, max: p.from, inverse: true, splitLine: { show: false } };
    // base grid carrying the visible axis and the dashed markers
    const H0 = Math.min(420, p.axisY - 10);
    grid.push({ left, width, top: p.axisY - H0, height: H0 });
    xAxis.push({
      ...baseX, gridIndex: grid.length - 1, show: true,
      axisLine: { show: true, onZero: false, lineStyle: { color: BLACK, width: 2.5 } },
      axisTick: { show: true, customValues: p.major, length: 9, lineStyle: { color: BLACK, width: 2 } },
      axisLabel: { show: true, customValues: p.major, margin: 14, fontSize: 18, color: BLACK, fontFamily: FONT },
    });
    yAxis.push({ type: "value", gridIndex: grid.length - 1, min: 0, max: H0, show: false });
    const bi = xAxis.length - 1;
    p.marks.forEach((ppm, k) => {
      const [yt, yb] = p.markSpan[k];
      series.push({
        type: "line", xAxisIndex: bi, yAxisIndex: bi, symbol: "none", silent: true, z: 5,
        data: [[ppm, p.axisY - yt], [ppm, p.axisY - yb]],
        lineStyle: { color: RED, width: 2, type: [7, 5] },
      });
    });
    p.traces.forEach((t, k) => {
      grid.push({ left, width, top: t.clip, height: p.axisY - t.clip });
      const last = k === p.traces.length - 1;
      xAxis.push({
        ...baseX, gridIndex: grid.length - 1, show: last,
        axisLine: { show: false, onZero: false },
        axisTick: { show: last, customValues: p.minor, length: 5, lineStyle: { color: BLACK, width: 1.5 } },
        axisLabel: { show: false },
      });
      yAxis.push({ type: "value", gridIndex: grid.length - 1, min: -(p.axisY - t.base), max: t.base - t.clip, show: false });
      const ti = xAxis.length - 1;
      series.push({
        type: "line", xAxisIndex: ti, yAxisIndex: ti, data: pairs(t.data), symbol: "none", showSymbol: false,
        smooth: 0.45, smoothMonotone: "x", clip: true, silent: true, z: 3,
        lineStyle: { color: t.color, width: 2.5 },
      });
    });
    // axis title  13C (ppm)
    graphic.push({ type: "text", x: p.nameX, y: p.nameY - 7, silent: true,
      style: { text: "13", fontSize: 15, fontFamily: FONT, fill: BLACK, textAlign: "left", textVerticalAlign: "middle", verticalAlign: "middle" } });
    graphic.push({ type: "text", x: p.nameX + 17, y: p.nameY, silent: true,
      style: { text: "C (ppm)", fontSize: 26, fontFamily: FONT, fill: BLACK, textAlign: "left", textVerticalAlign: "middle", verticalAlign: "middle" } });
  });

  TEXTS.forEach(([text, x, y, size, color, bold, align]) => {
    graphic.push({
      type: "text", x, y, silent: true, z: 10,
      style: { text, fontSize: size, fontFamily: FONT, fontWeight: bold ? "bold" : "normal", fill: color,
        textAlign: align, textVerticalAlign: "middle", verticalAlign: "middle" },
    });
  });

  WEDGES.forEach(([bx, by, tx, ty, hw, color]) => {
    const dx = tx - bx, dy = ty - by;
    const len = Math.hypot(dx, dy) || 1;
    const nx = -dy / len, ny = dx / len;
    graphic.push({
      type: "polygon", silent: true, z: 10,
      shape: { points: [[bx + nx * hw, by + ny * hw], [bx - nx * hw, by - ny * hw], [tx, ty]] },
      style: { fill: color, stroke: null },
    });
  });

  return {
    animation: false,
    backgroundColor: "#ffffff",
    textStyle: { fontFamily: FONT },
    grid, xAxis, yAxis, series, graphic,
  };
}

export default function App() {
  const ref = useRef<HTMLDivElement>(null);
  useEffect(() => {
    if (!ref.current) return;
    const chart = echarts.init(ref.current, undefined, { renderer: "svg" });
    chart.setOption(buildOption() as any);
    return () => chart.dispose();
  }, []);
  return (
    <div
      ref={ref}
      style={{ position: "absolute", left: 0, top: 0, width: 899, height: 1653, background: "#fff" }}
    />
  );
}
